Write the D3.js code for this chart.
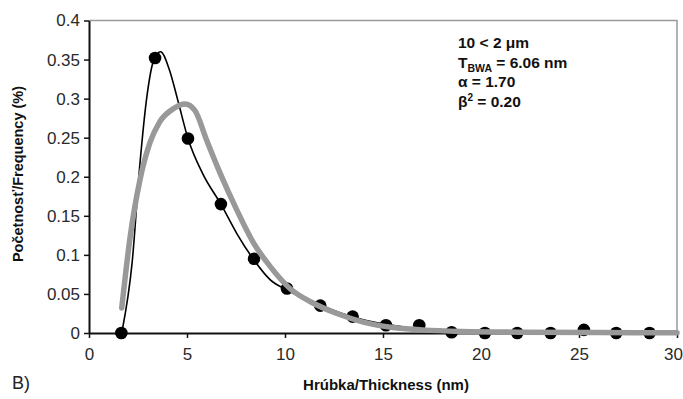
<!DOCTYPE html>
<html>
<head>
<meta charset="utf-8">
<script src="https://cdn.jsdelivr.net/npm/d3@7"></script>
<style>
	body { margin: 0; background: #fff; }
	svg { font-family: "Liberation Sans", Arial, sans-serif; }
	.tick text { font-size: 17px; fill: #2a2a2a; }
</style>
</head>
<body>
<div id="chart"></div>
<script>
// measured thickness histogram (nm, frequency)
var thickness = [1.65, 3.37, 5.05, 6.73, 8.42, 10.1, 11.8, 13.45, 15.15, 16.85, 18.5, 20.2, 21.85, 23.55, 25.25, 26.9, 28.6];
var frequency = [0, 0.352, 0.249, 0.165, 0.095, 0.057, 0.035, 0.021, 0.01, 0.01, 0.001, 0, 0, 0, 0.004, 0, 0];

// thin black fit through the points
var fitX = [1.7, 2.2, 2.6, 2.95, 3.3, 3.65, 4.1, 4.55, 5.05, 5.8, 6.75, 7.55, 8.4, 9.25, 10.1, 11.8, 12.8, 14, 15.2, 16.5, 18, 20, 24, 30];
var fitY = [0.004, 0.09, 0.217, 0.302, 0.349, 0.36, 0.337, 0.296, 0.249, 0.204, 0.164, 0.127, 0.094, 0.068, 0.055, 0.036, 0.026, 0.017, 0.011, 0.006, 0.003, 0.001, 0.0003, 0];

// thick grey BWA model curve
var bwaX = [1.67, 2.1, 2.6, 3.1, 3.6, 4.3, 4.9, 5.4, 6.0, 6.7, 7.55, 8.4, 9.25, 10.25, 11.3, 12.65, 14, 15.5, 17, 19, 22, 26, 30];
var bwaY = [0.032, 0.123, 0.196, 0.243, 0.27, 0.287, 0.293, 0.285, 0.247, 0.204, 0.157, 0.115, 0.085, 0.057, 0.04, 0.025, 0.014, 0.007, 0.004, 0.002, 0.001, 0.0005, 0.0003];

var xTicks = [0, 5, 10, 15, 20, 25, 30];
var yTicks = [0, 0.05, 0.1, 0.15, 0.2, 0.25, 0.3, 0.35, 0.4];

var width = 683, height = 399;
var margin = {top: 20.5, right: 6, bottom: 66, left: 89};

var svg = d3.select("#chart").append("svg")
	.attr("width", width)
	.attr("height", height);

var x = d3.scaleLinear().domain([0, 30]).range([margin.left, width - margin.right]);
var y = d3.scaleLinear().domain([0, 0.4]).range([height - margin.bottom, margin.top]);

// grey frame top and right
svg.append("path")
	.attr("d", "M" + x(0) + "," + y(0.4) + "H" + x(30) + "V" + y(0))
	.attr("fill", "none")
	.attr("stroke", "#9a9a9a")
	.attr("stroke-width", 1.5);

var xAxis = svg.append("g")
	.attr("transform", "translate(0," + y(0) + ")")
	.call(d3.axisBottom(x).tickValues(xTicks).tickSize(5).tickPadding(10).tickSizeOuter(0));

// last label sits on the right edge, nudge it in
xAxis.selectAll(".tick text")
	.attr("dx", function(d){ return d === 30 ? -4 : 0; });

var yAxis = svg.append("g")
	.attr("transform", "translate(" + x(0) + ",0)")
	.call(d3.axisLeft(y).tickValues(yTicks).tickSize(5).tickPadding(4).tickSizeOuter(0)
		.tickFormat(function(d){ return d3.format("")(+d.toFixed(2)); }));

[xAxis, yAxis].forEach(function(a){
	a.select(".domain").attr("stroke", "#111").attr("stroke-width", 2);
	a.selectAll(".tick line").attr("stroke", "#111").attr("stroke-width", 1.5);
});

var line = d3.line()
	.x(function(d){ return x(d[0]); })
	.y(function(d){ return y(d[1]); })
	.curve(d3.curveMonotoneX);

svg.append("path")
	.datum(fitX.map(function(v, i){ return [v, fitY[i]]; }))
	.attr("d", line)
	.attr("fill", "none")
	.attr("stroke", "#000")
	.attr("stroke-width", 1.6);

svg.append("g").selectAll("circle")
	.data(thickness.map(function(v, i){ return [v, frequency[i]]; }))
	.enter().append("circle")
		.attr("cx", function(d){ return x(d[0]); })
		.attr("cy", function(d){ return y(d[1]); })
		.attr("r", 6.3)
		.attr("fill", "#000");

svg.append("path")
	.datum(bwaX.map(function(v, i){ return [v, bwaY[i]]; }))
	.attr("d", line)
	.attr("fill", "none")
	.attr("stroke", "#999")
	.attr("stroke-width", 5.5)
	.attr("stroke-linecap", "round");

// annotation
var note = svg.append("g")
	.attr("font-size", 15.5)
	.attr("font-weight", "bold")
	.attr("fill", "#111");

note.append("text").attr("x", 458).attr("y", 48).text("10 < 2 μm");
var t = note.append("text").attr("x", 458).attr("y", 68);
t.append("tspan").text("T");
t.append("tspan").attr("font-size", 10.5).attr("dy", 4).text("BWA");
t.append("tspan").attr("dy", -4).text(" = 6.06 nm");
note.append("text").attr("x", 458).attr("y", 87).text("α = 1.70");
var b = note.append("text").attr("x", 458).attr("y", 107);
b.append("tspan").text("β");
b.append("tspan").attr("font-size", 10).attr("dy", -6).text("2");
b.append("tspan").attr("dy", 6).text(" = 0.20");

svg.append("text")
	.attr("x", 386)
	.attr("y", 390)
	.attr("text-anchor", "middle")
	.attr("font-size", 15)
	.attr("font-weight", "bold")
	.attr("fill", "#111")
	.text("Hrúbka/Thickness (nm)");

svg.append("text")
	.attr("transform", "translate(23,174) rotate(-90)")
	.attr("text-anchor", "middle")
	.attr("font-size", 14.5)
	.attr("font-weight", "bold")
	.attr("fill", "#111")
	.text("Početnosť/Frequency (%)");

svg.append("text")
	.attr("x", 12)
	.attr("y", 389)
	.attr("font-size", 18)
	.attr("fill", "#222")
	.text("B)");
</script>
</body>
</html>
